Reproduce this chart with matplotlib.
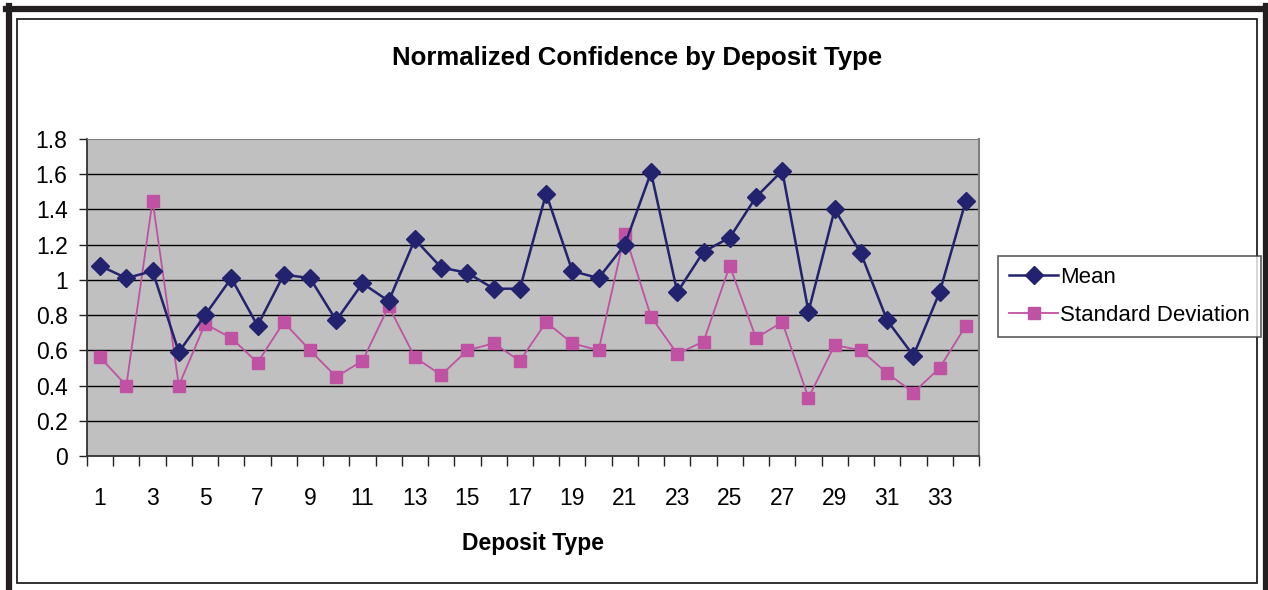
import matplotlib.pyplot as plt
import matplotlib.lines as mlines
import matplotlib.patches as mpatches
import numpy as np

deposit_type = list(range(1, 35))
mean_vals = [1.08, 1.01, 1.05, 0.59, 0.80, 1.01, 0.74, 1.03, 1.01, 0.77,
             0.98, 0.88, 1.23, 1.07, 1.04, 0.95, 0.95, 1.49, 1.05, 1.01,
             1.20, 1.61, 0.93, 1.16, 1.24, 1.47, 1.62, 0.82, 1.40, 1.15,
             0.77, 0.57, 0.93, 1.45]
std_vals = [0.56, 0.40, 1.45, 0.40, 0.75, 0.67, 0.53, 0.76, 0.60, 0.45,
            0.54, 0.85, 0.56, 0.46, 0.60, 0.64, 0.54, 0.76, 0.64, 0.60,
            1.26, 0.79, 0.58, 0.65, 1.08, 0.67, 0.76, 0.33, 0.63, 0.60,
            0.47, 0.36, 0.50, 0.74]
y_ticks = [0, 0.2, 0.4, 0.6, 0.8, 1.0, 1.2, 1.4, 1.6, 1.8]

W, H = 1268, 590
plt.rcParams['font.family'] = ['Liberation Sans', 'DejaVu Sans']

fig = plt.figure(figsize=(W / 100, H / 100), dpi=100)


def fx(px):
    return px / W


def fy(py):
    return 1 - py / H


# plot area in pixels: left 87, right 979, top 139, bottom 456
ax = fig.add_axes([fx(87), fy(456), fx(979 - 87), (456 - 139) / H])
ax.set_facecolor('#C0C0C0')

mean_col = '#22226E'
std_col = '#BF52A3'

ax.plot(deposit_type, mean_vals, color=mean_col, lw=1.8, marker='D',
        markersize=9, label='Mean', zorder=4)
ax.plot(deposit_type, std_vals, color=std_col, lw=1.3, marker='s',
        markersize=8, label='Standard Deviation', zorder=3)

ax.set_xlim(0.5, 34.5)
ax.set_ylim(0, 1.8)
ax.set_yticks(y_ticks)
ax.set_yticklabels([f"{v:g}" for v in y_ticks])
ax.set_xticks(deposit_type[::2])
ax.set_xticklabels([str(v) for v in deposit_type[::2]])
ax.set_xticks(np.arange(0.5, 35, 1), minor=True)
ax.tick_params(axis='x', which='major', length=0, pad=22, labelsize=16.5)
ax.tick_params(axis='x', which='minor', length=7, width=1, direction='out', color='#222222')
ax.tick_params(axis='y', length=6, width=1, pad=8, labelsize=16.5, color='#222222')
for yv in y_ticks[1:-1]:
    ax.axhline(yv, color='black', lw=1, zorder=1)
ax.axhline(1.8, color='#808080', lw=1.2, zorder=1)

ax.spines['left'].set_color('#333333')
ax.spines['bottom'].set_color('#333333')
ax.spines['left'].set_linewidth(1.3)
ax.spines['bottom'].set_linewidth(1.3)
ax.spines['top'].set_color('#808080')
ax.spines['right'].set_color('#808080')
ax.spines['right'].set_linewidth(1.5)

ax.set_xlabel('Deposit Type', fontsize=16.5, fontweight='bold', labelpad=16)
fig.text(fx(637), fy(58), 'Normalized Confidence by Deposit Type', ha='center', va='center',
         fontsize=18.5, fontweight='bold')

leg = fig.legend(loc='upper left', bbox_to_anchor=(fx(998), fy(256)), fontsize=16,
                 frameon=True, fancybox=False, shadow=False, handlelength=2.2,
                 borderpad=0.5, labelspacing=0.75, handletextpad=0.1, borderaxespad=0)
leg.get_frame().set_edgecolor('#333333')
leg.get_frame().set_linewidth(1.2)

# outer frame
fig.add_artist(mpatches.Rectangle((fx(17), fy(583)), fx(1257 - 17), (583 - 19) / H,
                                  fill=False, edgecolor='#222222', lw=1.3))
fig.add_artist(mlines.Line2D([fx(9), fx(9)], [0, fy(6)], color='#231F20', lw=4.5))
fig.add_artist(mlines.Line2D([fx(6), fx(1268)], [fy(9), fy(9)], color='#231F20', lw=4.5))
fig.add_artist(mlines.Line2D([fx(1266), fx(1266)], [0, fy(6)], color='#231F20', lw=4.5))

plt.savefig('out.png', dpi=100)
